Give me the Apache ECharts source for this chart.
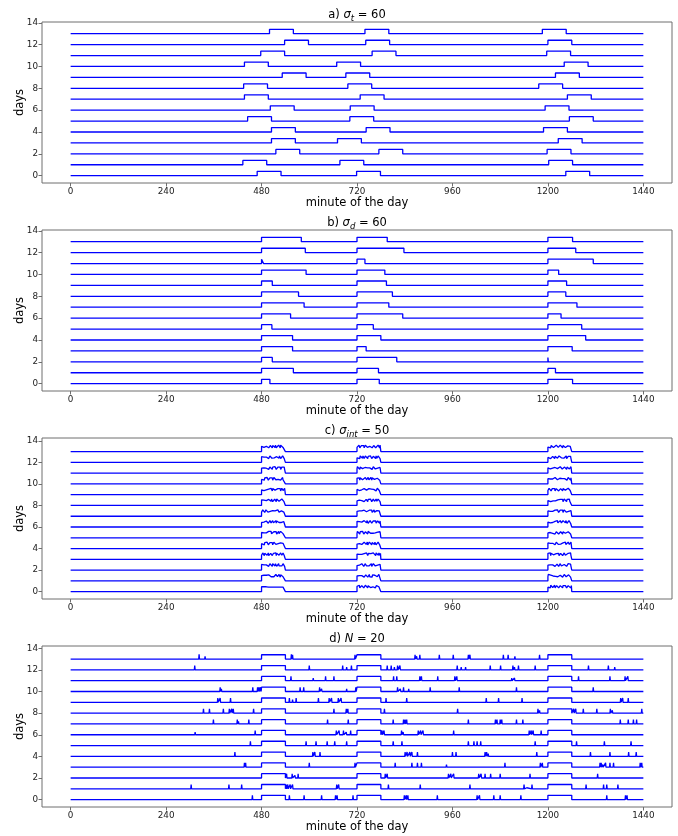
<!DOCTYPE html>
<html>
<head>
<meta charset="utf-8">
<script src="https://cdn.jsdelivr.net/npm/echarts@6/dist/echarts.min.js"></script>
<style>
  html, body { margin: 0; padding: 0; background: #fff; }
  #chart { width: 678px; height: 836px; }
</style>
</head>
<body>
<div id="chart"></div>
<script>
// ---- data ----
const days = [0, 1, 2, 3, 4, 5, 6, 7, 8, 9, 10, 11, 12, 13];
const xTicks = [0, 240, 480, 720, 960, 1200, 1440];
const yTicks = [0, 2, 4, 6, 8, 10, 12, 14];
const dayLength = 1440;
const pulseHeight = 0.4;
const pulseLength = 60;
const fixedStarts = [480, 720, 1200];

// a) shifted start times (minutes) of the three pulses, per day
const startsA = [
  [469, 719, 1245], [433, 677, 1202], [516, 775, 1198], [505, 671, 1226],
  [505, 743, 1189], [445, 702, 1254], [502, 703, 1193], [437, 728, 1249],
  [435, 697, 1177], [532, 692, 1219], [437, 669, 1241], [478, 758, 1197],
  [538, 742, 1200], [500, 740, 1186]
];

// b) pulse durations (minutes) with fixed start times, per day
const durationsB = [
  [21, 56, 62], [80, 54, 19], [27, 100, 1], [78, 23, 61],
  [78, 60, 95], [26, 41, 85], [73, 115, 33], [107, 80, 73],
  [93, 89, 45], [27, 74, 47], [112, 70, 27], [5, 20, 114],
  [110, 118, 70], [100, 76, 62]
];

// c) intensity inside each pulse, one digit per minute (level = 0.28 + 0.035*digit)
const intensityC = [
  ["573648574638574629475638475926485736495826475839465738462857", "647385926473859462753948576284695738462758493726584736958473", "485736294857364859276483957264385746928573648592475849376258"],
  ["638594726385749362854967385246738562947538579462836947385726", "574839627538694758267485936274593847562848693758467358496237", "396847572964857392648574936258473968527469584738265384769254"],
  ["748593624758673948263958476295684739582647593862478365947526", "486937528573958462735948376285385746927469485738264759386275", "593748627584693758263758496257694837528657394862743968475827"],
  ["385947628469483759265738496275847365928449583762957364958273", "674839582649573862747385946258586937482639485762956857394728", "847365928459384762954769385827738594627359483762854869375927"],
  ["594837628473859462753869475826695847382548573962747384659273", "486739582659384762948473659275395847628468473958275739486274", "738594628548693759275958473826374859627484659372854958376296"],
  ["684739582639584762957485936274586937482747593862946948375826", "395847628573649582745849376295695847382648673952748375946285", "573948627569483758264857396274738594628539684758265849376275"],
  ["486937582673859462745948376295385746928469584738274759386275", "738594628549583762946847395826573948627538694758277485936284", "595847382637485962758465937284495837629568473958265739486274"],
  ["386947582669584738254857396274738465927559483762846958473826", "573948627584659372843958476295684739582647593862747385946285", "684739582749583762847385946275386947582659584738254857396274"],
  ["748593627439584762856847395826573948629548693758276958473826", "485739627469584738253748596284738594627559483762953869475826", "584937627573649582844958376296684739582739584762857485936274"],
  ["595847382647593862757385946284386947582568473958264958376294", "695847382738574692855739486274846593729648693758275958473826", "386947582668473958274857396275738594628457394862956958473825"],
  ["495837628573859462743869475826595847382568473958274759386274", "736495828558493762744958376296374859628569584738265739486274", "684739582639584762955849376274748593628548693758263958476284"],
  ["573948627569584738264857396284738594627538694758266847395827", "395847628557394862947485936274486937582669584738254857396275", "695847382647593862743869475825595847382673859462844958376295"],
  ["738594628448693758265958473825374859627468473958265739486275", "495837629568473958273958476284736495827558493762963869475826", "584937627474859362854958376295695847382638574692746847395826"],
  ["695847382638694758257385946284485739627557394862944958376285", "374859627568473958265958473825486937582773859462745739486295", "495837628458493762756958473826395847628547593862747385946285"]
];

// d) short extra activity spikes [minute, height], per day
const spikesD = [
  [[399,.1],[457,.4],[550,.4],[587,.4],[631,.4],[666,.4],[670,.4],[703,.1],[710,.4],[839,.4],[844,.4],[848,.4],[872,.1],[922,.4],[996,.1],[1022,.4],[1028,.4],[1064,.4],[1080,.4],[1113,.1],[1132,.4],[1348,.4],[1395,.4],[1399,.4]],
  [[303,.4],[398,.4],[430,.4],[542,.4],[546,.4],[552,.4],[558,.4],[574,.1],[656,.1],[669,.4],[674,.4],[799,.4],[828,.1],[879,.4],[1004,.4],[1140,.4],[1147,.1],[1160,.4],[1296,.4],[1340,.4],[1348,.4],[1356,.1],[1376,.4],[1394,.1]],
  [[327,.1],[398,.1],[543,.4],[557,.4],[564,.25],[572,.4],[656,.1],[676,.1],[791,.4],[796,.4],[868,.1],[935,.1],[950,.4],[956,.4],[963,.4],[1026,.4],[1032,.4],[1042,.4],[1056,.4],[1080,.4],[1109,.1],[1124,.1],[1155,.4],[1325,.4]],
  [[437,.4],[440,.4],[600,.4],[715,.4],[816,.4],[858,.4],[872,.4],[882,.4],[945,.25],[1092,.4],[1162,.1],[1181,.4],[1186,.4],[1331,.4],[1334,.4],[1338,.25],[1345,.4],[1356,.4],[1365,.4],[1432,.4],[1436,.4]],
  [[332,.1],[413,.4],[609,.4],[614,.4],[627,.4],[698,.1],[841,.4],[846,.4],[853,.4],[858,.4],[872,.4],[960,.4],[969,.4],[1042,.4],[1046,.4],[1050,.25],[1172,.4],[1307,.4],[1322,.1],[1356,.4],[1403,.4],[1422,.4]],
  [[380,.1],[452,.4],[592,.4],[617,.4],[645,.4],[664,.4],[694,.4],[811,.4],[833,.4],[887,.1],[945,.1],[1000,.4],[1014,.4],[1022,.4],[1031,.4],[1168,.4],[1272,.4],[1342,.4],[1409,.4],[1424,.1]],
  [[313,.25],[365,.1],[464,.4],[644,.1],[668,.4],[675,.4],[686,.4],[693,.25],[704,.4],[783,.4],[788,.4],[832,.4],[836,.25],[874,.4],[880,.4],[886,.4],[917,.1],[963,.4],[1002,.1],[1011,.1],[1153,.4],[1158,.4],[1163,.4],[1183,.4],[1411,.1]],
  [[359,.4],[419,.4],[422,.25],[448,.4],[633,.1],[646,.4],[698,.4],[811,.4],[837,.4],[841,.4],[845,.4],[1000,.4],[1014,.1],[1068,.4],[1072,.4],[1080,.4],[1084,.4],[1121,.4],[1137,.4],[1382,.4],[1402,.4],[1415,.4],[1423,.4]],
  [[334,.4],[349,.4],[384,.4],[399,.4],[405,.4],[409,.4],[460,.4],[588,.1],[662,.4],[693,.4],[697,.4],[789,.4],[973,.4],[1175,.4],[1179,.25],[1189,.1],[1265,.4],[1270,.4],[1289,.4],[1323,.4],[1357,.4],[1362,.25],[1436,.4]],
  [[370,.4],[376,.4],[402,.4],[550,.4],[558,.25],[567,.4],[623,.4],[650,.4],[656,.4],[673,.4],[680,.4],[793,.4],[845,.4],[885,.1],[990,.1],[1045,.4],[1076,.4],[1135,.4],[1277,.1],[1383,.4],[1388,.4],[1402,.4]],
  [[376,.4],[379,.25],[415,.1],[458,.4],[470,.4],[474,.4],[478,.4],[577,.4],[586,.4],[626,.4],[631,.25],[694,.25],[717,.4],[822,.4],[829,.25],[837,.4],[850,.25],[904,.4],[977,.4],[1004,.1],[1061,.1],[1121,.4],[1314,.4],[1437,.1]],
  [[554,.4],[565,.1],[610,.25],[641,.4],[662,.4],[812,.4],[820,.4],[845,.1],[878,.4],[882,.4],[923,.4],[966,.4],[971,.4],[1010,.1],[1109,.25],[1116,.25],[1277,.4],[1356,.4],[1394,.4],[1401,.4]],
  [[312,.4],[600,.4],[684,.4],[694,.25],[706,.4],[796,.4],[806,.4],[814,.25],[822,.4],[828,.4],[972,.4],[982,.25],[993,.25],[1004,.1],[1026,.1],[1055,.4],[1081,.4],[1112,.4],[1116,.25],[1126,.4],[1168,.4],[1302,.4],[1352,.4],[1368,.25],[1386,.1]],
  [[323,.45],[338,.25],[356,.1],[555,.45],[558,.4],[644,.1],[715,.4],[806,.1],[832,.1],[866,.4],[870,.25],[878,.4],[927,.4],[962,.4],[1000,.4],[1004,.4],[1044,.1],[1088,.4],[1100,.4],[1117,.25],[1144,.1],[1179,.4]]
];

// ---- build line points ----
function rectPulse(d, s, len, h) {
  return [[s, d], [s, d + h], [s + len, d + h], [s + len, d]];
}
function noisyPulse(d, s, levels) {
  const lv = c => 0.28 + 0.035 * Number(c);
  const pts = [[s, d]];
  for (let k = 0; k < levels.length; k++) pts.push([s + k, d + lv(levels[k])]);
  pts.push([s + pulseLength, d + lv(levels[levels.length - 1])], [s + pulseLength, d]);
  return pts;
}
function spike(d, t, h) {
  return [[t - 1, d], [t, d + h], [t + 1, d]];
}
function assemble(d, pieces) {
  pieces.sort((a, b) => a[0][0] - b[0][0]);
  let pts = [[0, d]];
  pieces.forEach(p => { pts = pts.concat(p); });
  pts.push([dayLength, d]);
  return pts;
}

const rowsA = days.map(d => assemble(d, startsA[d].map(s => rectPulse(d, s, pulseLength, pulseHeight))));
const rowsB = days.map(d => assemble(d, fixedStarts.map((s, k) => rectPulse(d, s, durationsB[d][k], pulseHeight))));
const rowsC = days.map(d => assemble(d, fixedStarts.map((s, k) => noisyPulse(d, s, intensityC[d][k]))));
const rowsD = days.map(d => assemble(d,
  fixedStarts.map(s => rectPulse(d, s, pulseLength, pulseHeight))
    .concat(spikesD[d].map(([t, h]) => spike(d, t, h)))));

const panels = [
  { rows: rowsA, title: '{n|a) }{i|σ}{s|t}{n| = 60}', yMin: -0.67, yMax: 14.07 },
  { rows: rowsB, title: '{n|b) }{i|σ}{s|d}{n| = 60}', yMin: -0.67, yMax: 14.07 },
  { rows: rowsC, title: '{n|c) }{i|σ}{s|int}{n| = 50}', yMin: -0.68, yMax: 14.26 },
  { rows: rowsD, title: '{n|d) }{i|N}{n| = 20}', yMin: -0.68, yMax: 14.21 }
];

// ---- layout & style ----
const FONT = 'DejaVu Sans';
const panelTops = [22, 230, 438, 646];
const plotLeft = 42, plotWidth = 630, plotHeight = 161;
const frameColor = '#6e6e6e';
const lineBlue = '#0000ff';

const richTitle = {
  n: { fontSize: 11.5, fontFamily: FONT, color: '#000', lineHeight: 16 },
  i: { fontSize: 11.5, fontFamily: FONT, fontStyle: 'italic', color: '#000', lineHeight: 16 },
  s: { fontSize: 8.5, fontFamily: FONT, fontStyle: 'italic', color: '#000', lineHeight: 9, verticalAlign: 'bottom' }
};

const tickLabel = { fontSize: 8.8, fontFamily: FONT, color: '#222', margin: 4, formatter: v => String(v) };

const option = {
  backgroundColor: '#fff',
  animation: false,
  grid: panelTops.map(top => ({
    left: plotLeft, width: plotWidth, top: top, height: plotHeight, outerBoundsMode: 'none',
    show: true, borderColor: frameColor, borderWidth: 1, backgroundColor: 'transparent'
  })),
  xAxis: panels.map((p, i) => ({
    gridIndex: i, type: 'value', min: -72, max: 1512,
    axisLine: { show: false, onZero: false },
    axisTick: { show: true, length: 3.5, inside: false, customValues: xTicks, lineStyle: { color: frameColor } },
    axisLabel: Object.assign({ customValues: xTicks }, tickLabel),
    splitLine: { show: false },
    name: 'minute of the day', nameLocation: 'middle', nameGap: 14,
    nameTextStyle: { fontSize: 11.5, fontFamily: FONT, color: '#000' }
  })),
  yAxis: panels.map((p, i) => ({
    gridIndex: i, type: 'value', min: p.yMin, max: p.yMax,
    axisLine: { show: false, onZero: false },
    axisTick: { show: true, length: 3.5, inside: false, customValues: yTicks, lineStyle: { color: frameColor } },
    axisLabel: Object.assign({ customValues: yTicks }, tickLabel),
    splitLine: { show: false },
    name: 'days', nameLocation: 'middle', nameGap: 16, nameRotate: 90, nameMoveOverlap: false,
    nameTextStyle: { fontSize: 11.5, fontFamily: FONT, color: '#000' }
  })),
  graphic: panels.map((p, i) => ({
    type: 'text', x: plotLeft + plotWidth / 2, y: panelTops[i] - 7,
    style: { text: p.title, rich: richTitle, align: 'center', verticalAlign: 'middle' }
  })),
  series: []
};

panels.forEach((p, i) => {
  p.rows.forEach(pts => {
    option.series.push({
      type: 'line', xAxisIndex: i, yAxisIndex: i, data: pts,
      symbol: 'none', showSymbol: false, silent: true,
      lineStyle: { color: lineBlue, width: 1.3 }
    });
  });
});

const chart = echarts.init(document.getElementById('chart'), null, { renderer: 'canvas' });
chart.setOption(option);
</script>
</body>
</html>
